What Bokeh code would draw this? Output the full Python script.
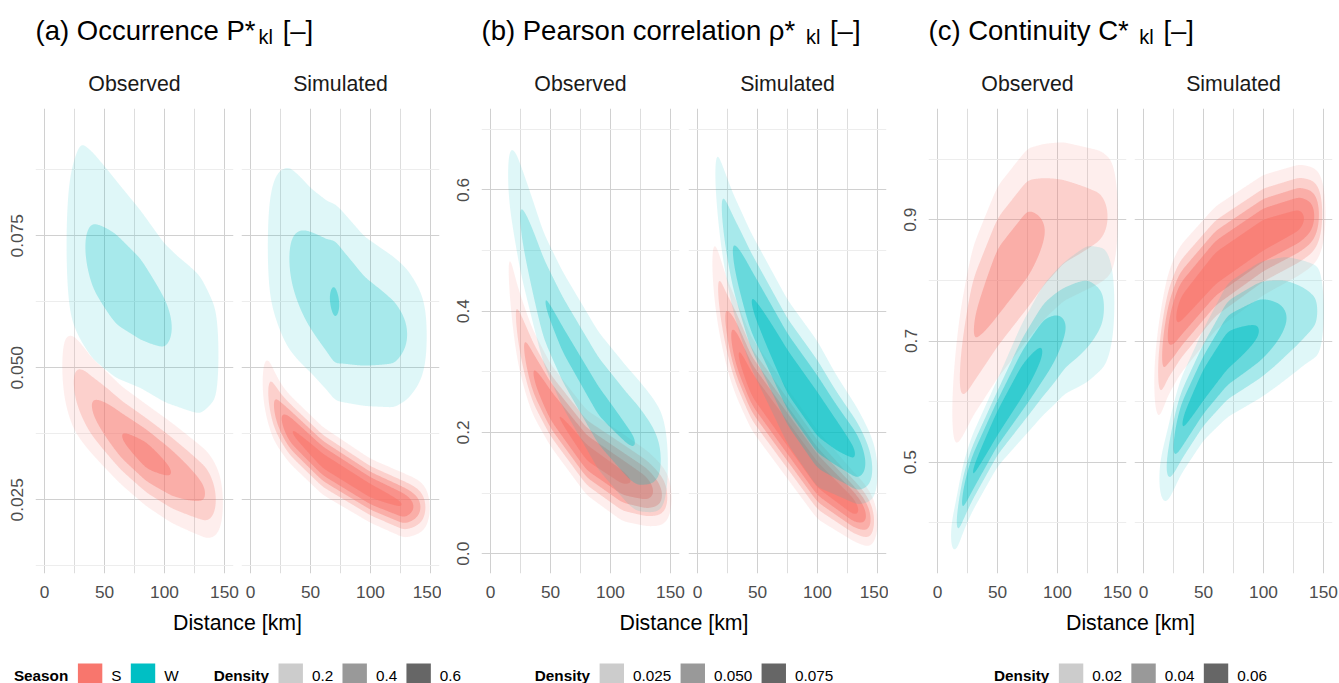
import numpy as np
from bokeh.plotting import figure
from bokeh.layouts import column, row
from bokeh.models import Range1d, FixedTicker, PrintfTickFormatter
from bokeh.core.properties import value
from bokeh.embed import file_html
from bokeh.resources import INLINE

FONT = "Liberation Sans"

# ------------------------------------------------------------------ data
SEASONS = ["S", "W"]
SEASON_COLORS = ["#F8766D", "#00BFC4"]
FACETS = ["Observed", "Simulated"]
X_TICKS = [0, 50, 100, 150]
X_MINOR = [25, 75, 125]
X_LIMITS = (-7.5, 157.5)
X_TITLE = "Distance [km]"

TITLE_MAIN = ["(a) Occurrence P*", "(b) Pearson correlation \u03c1* ", "(c) Continuity C* "]
TITLE_SUB = ["kl", "kl", "kl"]
TITLE_TAIL = ["[\u2013]", "[\u2013]", "[\u2013]"]

Y_LIMITS = [(0.01104, 0.0991), (-0.0326, 0.7343), (0.3165, 1.0835)]
Y_TICKS = [[0.025, 0.050, 0.075], [0.0, 0.2, 0.4, 0.6], [0.5, 0.7, 0.9]]
Y_TICK_FORMAT = ["%.3f", "%.1f", "%.1f"]
Y_MINOR = [[0.0125, 0.0375, 0.0625, 0.0875], [0.1, 0.3, 0.5, 0.7], [0.4, 0.6, 0.8, 1.0]]

DENSITY_STEP = [0.1, 0.0125, 0.01]          # spacing of density contour levels
DENSITY_BREAKS = [[0.2, 0.4, 0.6], [0.025, 0.050, 0.075], [0.02, 0.04, 0.06]]
DENSITY_BREAK_LABELS = [["0.2", "0.4", "0.6"], ["0.025", "0.050", "0.075"], ["0.02", "0.04", "0.06"]]

# ridge of each 2-D density: (distance km, ridge centre, spread, peak density)
RIDGE_A_OBS_S = [(10, .0520, .0080, 0.00), (14, .0506, .0079, 0.10), (24, .0473, .0074, 0.20),
                 (39, .0429, .0061, 0.30), (64, .0372, .0056, 0.40), (85, .0334, .0056, 0.44),
                 (106, .0301, .0057, 0.40), (135, .0260, .0056, 0.30), (143, .0249, .0056, 0.20),
                 (149, .0243, .0055, 0.10), (153, .0240, .0055, 0.00)]
RIDGE_A_OBS_W = [(12, .0730, .0160, 0.00), (20, .0733, .0162, 0.13), (30, .0740, .0165, 0.19),
                 (40, .0713, .0158, 0.215), (60, .0667, .0141, 0.24), (80, .0630, .0127, 0.24),
                 (100, .0585, .0121, 0.215), (110, .0570, .0126, 0.19), (130, .0543, .0134, 0.16),
                 (145, .0524, .0122, 0.12), (150, .0520, .0120, 0.00)]
RIDGE_A_SIM_S = [(6, .0485, .0055, 0.00), (10, .0475, .0055, 0.10), (15, .0455, .0051, 0.20),
                 (19, .0430, .0044, 0.30), (26, .0403, .0038, 0.40), (33, .0383, .0036, 0.50),
                 (60, .0324, .0035, 0.54), (100, .0267, .0033, 0.54), (128, .0239, .0034, 0.50),
                 (136, .0237, .0033, 0.40), (142, .0236, .0032, 0.30), (146, .0235, .0031, 0.20),
                 (149, .0235, .0031, 0.10), (153, .0235, .0031, 0.00)]
RIDGE_A_SIM_W = [(9, .0730, .0160, 0.00), (13, .0730, .0159, 0.10), (20, .0730, .0156, 0.14),
                 (32, .0708, .0146, 0.20), (50, .0666, .0126, 0.26), (65, .0634, .0122, 0.295),
                 (70, .0625, .0123, 0.315), (75, .0618, .0124, 0.295), (95, .0588, .0116, 0.26),
                 (120, .0567, .0110, 0.23), (131, .0563, .0104, 0.20), (140, .0560, .0095, 0.16),
                 (148, .0560, .0091, 0.10), (152, .0560, .0090, 0.00)]

RIDGE_B_OBS_S = [(10, .530, .050, 0.0), (15, .470, .050, .0125), (21, .390, .0495, .025),
                 (28, .340, .0456, .0375), (35, .300, .042, .050), (50, .245, .038, .06125),
                 (80, .167, .0383, .06625), (110, .126, .0398, .065), (130, .108, .0358, .0575),
                 (140, .099, .0335, .04375), (146, .094, .0313, .03125), (150, .092, .030, .015),
                 (154, .090, .030, 0.0)]
RIDGE_B_OBS_W = [(10, .650, .070, 0.0), (14, .630, .071, .0131), (20, .595, .073, .020),
                 (24, .560, .074, .025), (44, .422, .073, .0375), (60, .354, .074, .039),
                 (90, .252, .075, .0394), (115, .193, .075, .0381), (122, .180, .074, .0375),
                 (135, .163, .070, .0313), (143, .153, .067, .025), (148, .147, .065, .0125),
                 (152, .145, .065, 0.0)]
RIDGE_B_SIM_S = [(8, .520, .056, 0.0), (12.5, .480, .054, .0125), (16.7, .440, .052, .025),
                 (23.6, .385, .048, .0375), (28, .360, .046, .050), (33, .335, .044, .0625),
                 (45, .280, .041, .070), (100, .130, .039, .0725), (130, .078, .031, .06875),
                 (138, .066, .030, .05625), (143, .058, .029, .04375), (146, .054, .028, .03125),
                 (149, .052, .027, .015), (153, .050, .025, 0.0)]
RIDGE_B_SIM_W = [(10, .670, .055, 0.0), (15, .630, .0575, .0125), (19.5, .575, .060, .025),
                 (29, .500, .065, .0375), (44, .420, .067, .050), (75, .300, .068, .0575),
                 (100, .230, .069, .0575), (115, .197, .058, .055), (133, .161, .048, .050),
                 (140, .149, .044, .0375), (146, .139, .041, .025), (150, .133, .039, .0125),
                 (154, .130, .039, 0.0)]

RIDGE_C_OBS_S = [(8, .550, .070, 0.0), (12, .576, .077, .010), (18, .636, .087, .020),
                 (29, .714, .094, .030), (50, .797, .100, .035), (75, .860, .0995, .035),
                 (89, .881, .0973, .030), (105, .897, .0947, .026), (136, .905, .0866, .022),
                 (145, .905, .0831, .019), (150, .905, .080, .012), (154, .905, .080, 0.0)]
RIDGE_C_OBS_W = [(7, .370, .035, 0.0), (11, .375, .0354, .010), (16.7, .400, .036, .020),
                 (19.4, .430, .0364, .030), (28, .478, .0376, .040), (50, .565, .0415, .045),
                 (70, .6325, .0547, .045), (88, .685, .0643, .040), (106, .722, .0734, .030),
                 (125, .745, .083, .025), (140, .756, .0818, .020), (148, .762, .0802, .010),
                 (152, .765, .080, 0.0)]
RIDGE_C_SIM_S = [(5, .620, .060, 0.0), (9.7, .630, .060, .010), (12, .645, .060, .020),
                 (15, .670, .060, .030), (20, .710, .060, .040), (25, .730, .059, .048),
                 (30, .750, .058, .053), (60, .820, .055, .056), (100, .875, .0534, .056),
                 (130, .900, .050, .053), (140, .905, .0475, .045), (145, .9075, .0463, .035),
                 (148, .909, .0455, .025), (150, .910, .045, .015), (154, .910, .045, 0.0)]
RIDGE_C_SIM_W = [(8, .470, .045, 0.0), (13, .470, .046, .010), (19.5, .490, .0475, .020),
                 (25, .525, .0478, .030), (30.6, .557, .0474, .040), (50, .628, .053, .045),
                 (70, .685, .0636, .045), (97, .718, .0675, .040), (119, .738, .068, .030),
                 (135, .747, .064, .024), (147, .750, .061, .020), (150, .750, .060, .010),
                 (154, .750, .060, 0.0)]

RIDGES = [
    [[RIDGE_A_OBS_S, RIDGE_A_OBS_W], [RIDGE_A_SIM_S, RIDGE_A_SIM_W]],
    [[RIDGE_B_OBS_S, RIDGE_B_OBS_W], [RIDGE_B_SIM_S, RIDGE_B_SIM_W]],
    [[RIDGE_C_OBS_S, RIDGE_C_OBS_W], [RIDGE_C_SIM_S, RIDGE_C_SIM_W]],
]

# ------------------------------------------------------------------ layout
PAGE_W = 1339
FRAME_W, FRAME_H = 198, 465
TOP_H, BORDER_TOP, BORDER_BOTTOM, BOTTOM_H = 100, 8, 32, 78
BORDERS = [(35, 6), (2, 2), (40, 7), (2, 2), (40, 6), (2, 7)]

TITLE_SIZE, SUB_SIZE, STRIP_SIZE, AXTITLE_SIZE, TICK_SIZE, LEG_SIZE = 27.5, 20.0, 21.3, 21.3, 17.3, 15.3

W_REG = {' ': 278, '(': 333, ')': 333, '*': 389, '.': 278, '[': 278, ']': 278, '\u2013': 556,
         '\u03c1': 572, 'a': 556, 'b': 556, 'c': 500, 'd': 556, 'e': 556, 'i': 222, 'k': 500,
         'l': 222, 'm': 833, 'n': 556, 'o': 556, 'r': 333, 's': 500, 't': 278, 'u': 556,
         'v': 500, 'y': 500, 'C': 722, 'D': 722, 'O': 778, 'P': 667, 'S': 667, 'W': 944}
for _d in "0123456789":
    W_REG[_d] = 556
W_BOLD = {'S': 667, 'e': 556, 'a': 556, 's': 556, 'o': 611, 'n': 611, 'D': 722, 'i': 278,
          't': 333, 'y': 556}


def text_w(s, size, bold=False):
    tab = W_BOLD if bold else W_REG
    return sum(tab.get(ch, 556) for ch in s) * size / 1000.0


def frame_left(idx):
    x = 0
    for k in range(idx):
        x += BORDERS[k][0] + FRAME_W + BORDERS[k][1]
    return x + BORDERS[idx][0]


def smooth(v, sigma=5):
    k = np.arange(-3 * sigma, 3 * sigma + 1)
    w = np.exp(-0.5 * (k / sigma) ** 2)
    w /= w.sum()
    return np.convolve(np.pad(v, 3 * sigma, mode="edge"), w, mode="valid")


def density(ridge, xg, yg):
    d, c, s, a = (np.array(v, dtype=float) for v in zip(*ridge))
    cx = smooth(np.interp(xg, d, c))
    sx = smooth(np.interp(xg, d, s))
    ax = smooth(np.interp(xg, d, a))
    return ax[None, :] * np.exp(-0.5 * ((yg[:, None] - cx[None, :]) / sx[None, :]) ** 2)


def make_facet(i, j):
    idx = 2 * i + j
    lb, rb = BORDERS[idx]
    p = figure(width=lb + FRAME_W + rb, height=BORDER_TOP + FRAME_H + BORDER_BOTTOM,
               x_range=Range1d(*X_LIMITS), y_range=Range1d(*Y_LIMITS[i]),
               min_border_left=lb, min_border_right=rb, min_border_top=BORDER_TOP,
               min_border_bottom=BORDER_BOTTOM, toolbar_location=None, output_backend="svg",
               outline_line_color=None, background_fill_color="white", border_fill_color="white")
    p.xgrid.ticker = FixedTicker(ticks=X_TICKS, minor_ticks=X_MINOR)
    p.ygrid.ticker = FixedTicker(ticks=Y_TICKS[i], minor_ticks=Y_MINOR[i])
    p.xgrid.grid_line_color = "#D0D0D0"
    p.xgrid.minor_grid_line_color = "#DDDDDD"
    p.ygrid.grid_line_color = "#D0D0D0"
    p.ygrid.minor_grid_line_color = "#EDEDED"

    for ax in (p.xaxis[0], p.yaxis[0]):
        ax.axis_line_color = None
        ax.major_tick_line_color = None
        ax.minor_tick_line_color = None
        ax.major_label_text_font = FONT
        ax.major_label_text_font_size = "%.1fpx" % TICK_SIZE
        ax.major_label_text_color = "#4D4D4D"
        ax.major_label_standoff = 6
    p.xaxis.ticker = FixedTicker(ticks=X_TICKS)
    p.yaxis.ticker = FixedTicker(ticks=Y_TICKS[i])
    p.yaxis.formatter = PrintfTickFormatter(format=Y_TICK_FORMAT[i])
    p.yaxis.major_label_orientation = "vertical"
    if j == 1:
        p.yaxis.visible = False

    xg = np.linspace(X_LIMITS[0], X_LIMITS[1], 331)
    yg = np.linspace(Y_LIMITS[i][0], Y_LIMITS[i][1], 421)
    step = DENSITY_STEP[i]
    for s_idx, ridge in enumerate(RIDGES[i][j]):
        z = density(ridge, xg, yg)
        zmax = float(z.max())
        k = 1
        while k * step < zmax:
            p.contour(x=xg, y=yg, z=z, levels=[k * step, zmax + step],
                      fill_color=SEASON_COLORS[s_idx], fill_alpha=0.125 * k)
            k += 1
    return p


facets = [make_facet(i, j) for i in range(3) for j in range(2)]


def add_text(p, xs, ys, texts, size, color="black", align="left", bold=False):
    # y is the vertical centre of the text
    kw = dict(text_font=value(FONT), text_font_size=value("%.1fpx" % size), text_color=color,
              text_baseline="middle", text_align=align)
    if bold:
        kw["text_font_style"] = "bold"
    p.text(x=xs, y=ys, text=texts, **kw)


# ---- top strip: panel titles and facet strip labels
top = figure(width=PAGE_W, height=TOP_H, x_range=Range1d(0, PAGE_W), y_range=Range1d(TOP_H, 0),
             min_border=0, toolbar_location=None, output_backend="svg", x_axis_location=None,
             y_axis_location=None, outline_line_color=None, border_fill_color="white")
top.grid.visible = False
TITLE_CENTER, SUB_CENTER, STRIP_CENTER = 30, 36, 83
for i in range(3):
    x0 = frame_left(2 * i)
    xs = x0 + text_w(TITLE_MAIN[i], TITLE_SIZE) + 3
    xt = xs + text_w(TITLE_SUB[i], SUB_SIZE) + text_w(" ", TITLE_SIZE) + 2
    add_text(top, [x0], [TITLE_CENTER], [TITLE_MAIN[i]], TITLE_SIZE)
    add_text(top, [xs], [SUB_CENTER], [TITLE_SUB[i]], SUB_SIZE)
    add_text(top, [xt], [TITLE_CENTER], [TITLE_TAIL[i]], TITLE_SIZE)
strip_x = [frame_left(k) + FRAME_W / 2 for k in range(6)]
add_text(top, strip_x, [STRIP_CENTER] * 6, FACETS * 3, STRIP_SIZE, color="#1A1A1A", align="center")

# ---- bottom strip: axis titles and legends
bottom = figure(width=PAGE_W, height=BOTTOM_H, x_range=Range1d(0, PAGE_W),
                y_range=Range1d(BOTTOM_H, 0), min_border=0, toolbar_location=None,
                output_backend="svg", x_axis_location=None, y_axis_location=None,
                outline_line_color=None, border_fill_color="white")
bottom.grid.visible = False
centers = [(frame_left(2 * i) + frame_left(2 * i + 1) + FRAME_W) / 2 for i in range(3)]
add_text(bottom, centers, [17] * 3, [X_TITLE] * 3, AXTITLE_SIZE, align="center")

SW, GAP_T, GAP_L, GAP_I, GAP_G = 24.4, 9.6, 9.0, 9.3, 35.0
LEG_CENTER, SW_TOP = 70, 58
for i in range(3):
    groups = []
    if i == 0:
        groups.append(("Season", [(c, 1.0, s) for c, s in zip(SEASON_COLORS, SEASONS)]))
    groups.append(("Density", [("#333333", b * 0.125 / DENSITY_STEP[i], lab)
                               for b, lab in zip(DENSITY_BREAKS[i], DENSITY_BREAK_LABELS[i])]))
    total = 0.0
    for g, (title, items) in enumerate(groups):
        total += text_w(title, LEG_SIZE, True) + GAP_T
        total += sum(SW + GAP_L + text_w(lab, LEG_SIZE) for _, _, lab in items)
        total += GAP_I * (len(items) - 1)
        if g < len(groups) - 1:
            total += GAP_G
    x = centers[i] - total / 2
    for g, (title, items) in enumerate(groups):
        add_text(bottom, [x], [LEG_CENTER], [title], LEG_SIZE, bold=True)
        x += text_w(title, LEG_SIZE, True) + GAP_T
        for n, (col, alpha, lab) in enumerate(items):
            bottom.quad(left=[x], right=[x + SW], top=[SW_TOP], bottom=[SW_TOP + SW],
                        fill_color=col, fill_alpha=alpha, line_color=None)
            x += SW + GAP_L
            add_text(bottom, [x], [LEG_CENTER], [lab], LEG_SIZE)
            x += text_w(lab, LEG_SIZE)
            if n < len(items) - 1:
                x += GAP_I
        x += GAP_G

layout = column(top, row(*facets), bottom)
open("out.html", "w").write(file_html(layout, INLINE))
